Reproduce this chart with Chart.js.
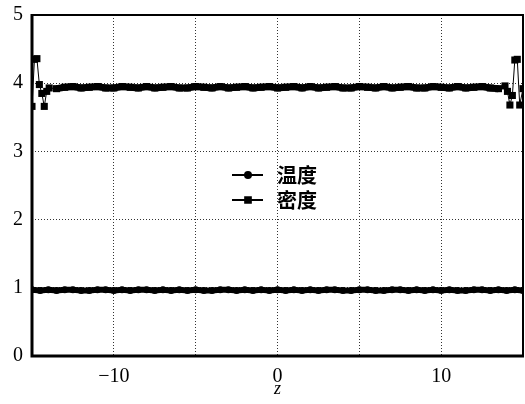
<!DOCTYPE html>
<html>
<head>
<meta charset="utf-8">
<title>温度 / 密度</title>
<script src="https://cdn.jsdelivr.net/npm/chart.js@4.4.1/dist/chart.umd.min.js"></script>
<style>
  html, body { margin: 0; padding: 0; background: #fff; }
  #wrap { width: 525px; height: 404px; position: relative; }
</style>
</head>
<body>
<div id="wrap"><canvas id="chart"></canvas></div>
<script>
// Series labels (legend)
const seriesLabels = ['温度', '密度'];

// z positions of the temperature samples
const tempZ = [
  -15, -14.5, -14, -13.5, -13, -12.5, -12, -11.5, -11, -10.5,
  -10, -9.5, -9, -8.5, -8, -7.5, -7, -6.5, -6, -5.5,
  -5, -4.5, -4, -3.5, -3, -2.5, -2, -1.5, -1, -0.5,
  0,
  0.5, 1, 1.5, 2, 2.5, 3, 3.5, 4, 4.5, 5,
  5.5, 6, 6.5, 7, 7.5, 8, 8.5, 9, 9.5, 10,
  10.5, 11, 11.5, 12, 12.5, 13, 13.5, 14, 14.5, 15
];
const tempValues = [
  0.97, 0.96, 0.97, 0.96, 0.97, 0.97, 0.96, 0.96, 0.97, 0.97,
  0.96, 0.97, 0.96, 0.97, 0.97, 0.96, 0.97, 0.96, 0.97, 0.96,
  0.97, 0.96, 0.96, 0.97, 0.97, 0.96, 0.97, 0.96, 0.97, 0.96,
  0.97,
  0.96, 0.97, 0.96, 0.97, 0.96, 0.97, 0.97, 0.96, 0.96, 0.97,
  0.97, 0.96, 0.96, 0.97, 0.97, 0.96, 0.97, 0.96, 0.97, 0.96,
  0.97, 0.96, 0.96, 0.97, 0.97, 0.96, 0.97, 0.96, 0.97, 0.96
];

// z positions of the density samples (finer near the two ends)
const densityZ = [
  -15, -14.85, -14.7, -14.55, -14.4, -14.25, -14.1, -13.95,
  -13.5, -13, -12.5, -12, -11.5, -11, -10.5, -10, -9.5, -9,
  -8.5, -8, -7.5, -7, -6.5, -6, -5.5, -5, -4.5, -4,
  -3.5, -3, -2.5, -2, -1.5, -1, -0.5,
  0, 0.5, 1, 1.5, 2, 2.5, 3, 3.5, 4, 4.5,
  5, 5.5, 6, 6.5, 7, 7.5, 8, 8.5, 9, 9.5,
  10, 10.5, 11, 11.5, 12, 12.5, 13, 13.5,
  13.9, 14.05, 14.2, 14.35, 14.5, 14.65, 14.8, 15
];
const densityValues = [
  3.66, 4.35, 4.36, 3.98, 3.85, 3.66, 3.88, 3.93,
  3.92, 3.94, 3.95, 3.93, 3.94, 3.95, 3.93, 3.93, 3.95, 3.94,
  3.93, 3.95, 3.93, 3.94, 3.95, 3.93, 3.93, 3.95, 3.94, 3.93,
  3.95, 3.93, 3.94, 3.95, 3.93, 3.94, 3.95,
  3.93, 3.94, 3.95, 3.93, 3.95, 3.93, 3.94, 3.95, 3.93, 3.93,
  3.95, 3.94, 3.93, 3.95, 3.93, 3.94, 3.95, 3.93, 3.93, 3.95,
  3.94, 3.93, 3.95, 3.93, 3.94, 3.95, 3.93, 3.92,
  3.96, 3.88, 3.68, 3.82, 4.34, 4.35, 3.68, 3.92
];

// Axis ticks
const xTicks = [-15, -10, -5, 0, 5, 10, 15];
const xTickLabels = ['', '−10', '', '0', '', '10', ''];
const yTicks = [0, 1, 2, 3, 4, 5];

const pairs = (xs, ys) => xs.map((x, i) => ({ x: x, y: ys[i] }));

const TICK_FONT = { family: "'Liberation Serif', 'DejaVu Serif', serif", size: 20 };
const LEGEND_FONT = "bold 20px 'Noto Sans CJK SC', sans-serif";

// thin connecting lines near the two ends of the density curve, thick band elsewhere
const edgeWidth = (thick) => (c) => {
  const a = c.p0.parsed.x, b = c.p1.parsed.x;
  return (Math.abs(a) > 13.8 || Math.abs(b) > 13.8) ? 1 : thick;
};

// Frame round the plot area
const framePlugin = {
  id: 'plotFrame',
  afterDraw(chart) {
    const { ctx, chartArea: a } = chart;
    ctx.save();
    ctx.setLineDash([]);
    ctx.strokeStyle = '#000';
    ctx.lineWidth = 2;
    ctx.beginPath();
    ctx.moveTo(a.left, a.top);
    ctx.lineTo(a.right, a.top);
    ctx.lineTo(a.right, a.bottom);
    ctx.stroke();
    ctx.lineWidth = 3;
    ctx.beginPath();
    ctx.moveTo(a.left, a.top - 1);
    ctx.lineTo(a.left, a.bottom);
    ctx.lineTo(a.right + 1, a.bottom);
    ctx.stroke();
    ctx.restore();
  }
};

// Legend drawn inside the plot, in the middle
const innerLegendPlugin = {
  id: 'innerLegend',
  afterDraw(chart) {
    const { ctx } = chart;
    const rows = [
      { y: 175, ds: chart.data.datasets[0], r: 3 },
      { y: 200, ds: chart.data.datasets[1], r: 4 }
    ];
    ctx.save();
    ctx.setLineDash([]);
    rows.forEach(row => {
      ctx.strokeStyle = '#000';
      ctx.lineWidth = 2;
      ctx.beginPath();
      ctx.moveTo(232, row.y);
      ctx.lineTo(263, row.y);
      ctx.stroke();
      Chart.helpers.drawPoint(ctx, {
        pointStyle: row.ds.pointStyle,
        radius: row.r,
        borderWidth: 1
      }, 248, row.y);
      ctx.fillStyle = '#000';
      ctx.fill();
      ctx.font = LEGEND_FONT;
      ctx.textBaseline = 'middle';
      ctx.textAlign = 'left';
      ctx.fillText(row.ds.label, 277, row.y);
    });
    ctx.restore();
  }
};

new Chart(document.getElementById('chart'), {
  type: 'line',
  data: {
    datasets: [
      {
        label: seriesLabels[0],
        data: pairs(tempZ, tempValues),
        borderColor: '#000',
        backgroundColor: '#000',
        borderWidth: 6,
        pointStyle: 'circle',
        pointRadius: 3.5,
        pointBorderWidth: 0,
        tension: 0
      },
      {
        label: seriesLabels[1],
        data: pairs(densityZ, densityValues),
        borderColor: '#000',
        backgroundColor: '#000',
        borderWidth: 7,
        segment: { borderWidth: edgeWidth(7) },
        pointStyle: 'rect',
        pointRadius: 5,
        pointBorderWidth: 0,
        tension: 0
      }
    ]
  },
  options: {
    responsive: true,
    maintainAspectRatio: false,
    animation: false,
    layout: { autoPadding: false, padding: { left: 0, right: 2, top: 15, bottom: 4 } },
    plugins: {
      legend: { display: false },
      tooltip: { enabled: false }
    },
    scales: {
      x: {
        type: 'linear',
        min: -15,
        max: 15,
        afterBuildTicks: scale => { scale.ticks = xTicks.map(v => ({ value: v })); },
        afterFit: scale => {
          scale.height = 44;
          scale.paddingLeft = 0;
          scale.paddingRight = 0;
        },
        ticks: {
          color: '#000',
          font: TICK_FONT,
          padding: 9,
          maxRotation: 0,
          autoSkip: false,
          callback: (v, i) => xTickLabels[i]
        },
        grid: {
          drawTicks: false,
          color: c => (c.tick && Math.abs(c.tick.value) === 15) ? 'rgba(0,0,0,0)' : '#333',
          lineWidth: 1
        },
        border: { display: false, dash: [1, 2] },
        title: {
          display: true,
          text: 'z',
          color: '#000',
          font: { family: "'Liberation Serif', serif", size: 18, style: 'italic' },
          padding: { top: 0, bottom: 0 }
        }
      },
      y: {
        min: 0,
        max: 5,
        afterBuildTicks: scale => { scale.ticks = yTicks.map(v => ({ value: v })); },
        afterFit: scale => {
          scale.width = 32;
          scale.paddingTop = 0;
          scale.paddingBottom = 0;
        },
        ticks: {
          color: '#000',
          font: TICK_FONT,
          padding: 9
        },
        grid: {
          drawTicks: false,
          color: c => (c.tick && (c.tick.value === 0 || c.tick.value === 5)) ? 'rgba(0,0,0,0)' : '#333',
          lineWidth: 1
        },
        border: { display: false, dash: [1, 2] }
      }
    }
  },
  plugins: [framePlugin, innerLegendPlugin]
});
</script>
</body>
</html>
